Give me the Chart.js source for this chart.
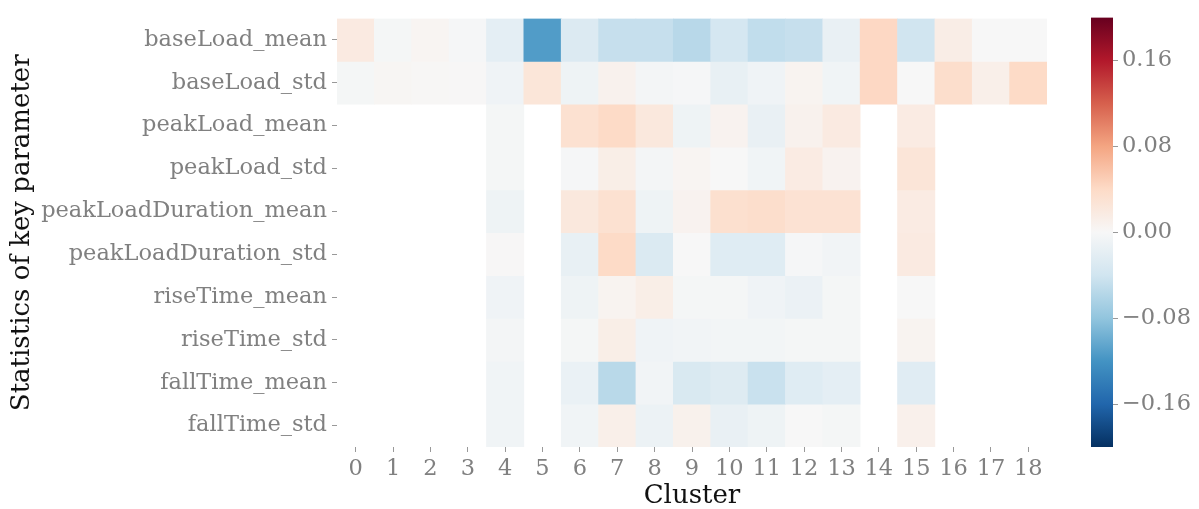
<!DOCTYPE html>
<html>
<head>
<meta charset="utf-8">
<script src="https://cdn.jsdelivr.net/npm/chart.js@4/dist/chart.umd.min.js"></script>
<style>
    html, body { margin: 0; padding: 0; background: #ffffff; }
    #wrap { position: relative; width: 1199px; height: 509px; overflow: hidden; }
    #heatmap { position: absolute; left: 0; top: 0; }
    #colorbar { position: absolute; left: 1060px; top: 0; }
</style>
</head>
<body>
<div id="wrap">
    <canvas id="heatmap" width="1070" height="509"></canvas>
    <canvas id="colorbar" width="139" height="509"></canvas>
</div>
<script>
const clusters = ['0', '1', '2', '3', '4', '5', '6', '7', '8', '9', '10', '11', '12', '13', '14', '15', '16', '17', '18'];
const parameters = [
    'baseLoad_mean', 'baseLoad_std', 'peakLoad_mean', 'peakLoad_std',
    'peakLoadDuration_mean', 'peakLoadDuration_std', 'riseTime_mean',
    'riseTime_std', 'fallTime_mean', 'fallTime_std'
];
const n = null;

// one array per parameter row, one value per cluster (null = no data)
const baseLoadMean = [0.018, -0.003, 0.004, -0.002, -0.02, -0.113, -0.028, -0.047, -0.047, -0.056, -0.036, -0.05, -0.047, -0.015, 0.042, -0.04, 0.014, 0.0, 0.0];
const baseLoadStd = [-0.003, 0.003, 0.002, 0.001, -0.008, 0.025, -0.009, 0.008, -0.004, -0.002, -0.016, -0.008, 0.006, -0.007, 0.042, 0.0, 0.036, 0.012, 0.04];
const peakLoadMean = [n, n, n, n, -0.003, n, 0.032, 0.04, 0.022, -0.01, 0.007, -0.015, 0.008, 0.018, n, 0.017, n, n, n];
const peakLoadStd = [n, n, n, n, -0.003, n, -0.002, 0.013, -0.004, 0.004, 0.0, -0.007, 0.017, 0.007, n, 0.026, n, n, n];
const peakLoadDurationMean = [n, n, n, n, -0.01, n, 0.022, 0.032, -0.01, 0.007, 0.033, 0.036, 0.03, 0.03, n, 0.017, n, n, n];
const peakLoadDurationStd = [n, n, n, n, 0.001, n, -0.016, 0.04, -0.03, 0.0, -0.025, -0.025, -0.002, -0.006, n, 0.018, n, n, n];
const riseTimeMean = [n, n, n, n, -0.008, n, -0.009, 0.006, 0.013, -0.003, -0.003, -0.008, -0.013, -0.003, n, 0.0, n, n, n];
const riseTimeStd = [n, n, n, n, -0.004, n, -0.003, 0.013, -0.008, -0.006, -0.005, -0.005, -0.003, -0.003, n, 0.006, n, n, n];
const fallTimeMean = [n, n, n, n, -0.007, n, -0.014, -0.055, -0.006, -0.032, -0.026, -0.045, -0.025, -0.02, n, -0.024, n, n, n];
const fallTimeStd = [n, n, n, n, -0.007, n, -0.007, 0.012, -0.012, 0.009, -0.015, -0.01, 0.0, -0.003, n, 0.01, n, n, n];

const rows = [baseLoadMean, baseLoadStd, peakLoadMean, peakLoadStd, peakLoadDurationMean,
    peakLoadDurationStd, riseTimeMean, riseTimeStd, fallTimeMean, fallTimeStd];

const colorTicks = [-0.16, -0.08, 0, 0.08, 0.16];
const vmin = -0.2;
const vmax = 0.2;

// RdBu_r colormap stops
const rdbu = ['#053061', '#2166ac', '#4393c3', '#92c5de', '#d1e5f0', '#f7f7f7',
    '#fddbc7', '#f4a582', '#d6604d', '#b2182b', '#67001f'];

function hexToRgb(hex) {
    return [parseInt(hex.slice(1, 3), 16), parseInt(hex.slice(3, 5), 16), parseInt(hex.slice(5, 7), 16)];
}

function colorFor(value) {
    let t = (value - vmin) / (vmax - vmin);
    t = Math.max(0, Math.min(1, t));
    const pos = t * (rdbu.length - 1);
    const i = Math.min(Math.floor(pos), rdbu.length - 2);
    const f = pos - i;
    const a = hexToRgb(rdbu[i]);
    const b = hexToRgb(rdbu[i + 1]);
    const c = a.map(function (v, k) { return Math.round(v + (b[k] - v) * f); });
    return 'rgb(' + c[0] + ',' + c[1] + ',' + c[2] + ')';
}

function formatTick(value) {
    const s = Math.abs(value).toFixed(2);
    return value < 0 ? '\u2212' + s : s;
}

const tickFont = { family: 'DejaVu Serif', size: 22.5 };
const titleFont = { family: 'DejaVu Serif', size: 26, lineHeight: 1.0 };
const tickGray = '#808080';

const datasets = rows.map(function (values, r) {
    return {
        label: parameters[r],
        data: values.map(function (v) { return v === null ? null : [r - 0.5, r + 0.5]; }),
        backgroundColor: values.map(function (v) { return v === null ? 'rgba(0,0,0,0)' : colorFor(v); }),
        borderWidth: 0,
        barPercentage: 1,
        categoryPercentage: 1,
        grouped: false
    };
});

new Chart(document.getElementById('heatmap'), {
    type: 'bar',
    data: { labels: clusters, datasets: datasets },
    options: {
        responsive: false,
        animation: false,
        devicePixelRatio: 1,
        layout: { padding: { left: 0, right: 23, top: 13, bottom: 0 } },
        plugins: { legend: { display: false }, tooltip: { enabled: false } },
        scales: {
            x: {
                type: 'category',
                grid: { display: true, offset: false, drawOnChartArea: false, drawTicks: true, tickLength: 5, color: '#999999', lineWidth: 1 },
                border: { display: false },
                ticks: { font: tickFont, color: tickGray, padding: 4, maxRotation: 0, autoSkip: false },
                title: { display: true, text: 'Cluster', font: titleFont, color: '#111111', padding: { top: 0, bottom: 0 } },
                afterFit: function (scale) { scale.height = 62; }
            },
            y: {
                type: 'linear',
                min: -0.5,
                max: 9.5,
                reverse: true,
                afterBuildTicks: function (scale) {
                    scale.ticks = parameters.map(function (p, i) { return { value: i }; });
                },
                grid: { display: true, drawOnChartArea: false, drawTicks: true, tickLength: 5, color: '#999999', lineWidth: 1 },
                border: { display: false },
                ticks: {
                    font: tickFont,
                    color: tickGray,
                    padding: 5,
                    callback: function (value) { return parameters[value]; }
                },
                title: { display: true, text: 'Statistics of key parameter', font: titleFont, color: '#111111', padding: { top: 9, bottom: 0 } },
                afterFit: function (scale) { scale.width = 337; }
            }
        }
    }
});

new Chart(document.getElementById('colorbar'), {
    type: 'bar',
    data: {
        labels: ['cbar'],
        datasets: [{
            data: [[vmin, vmax]],
            backgroundColor: function (ctx) {
                const area = ctx.chart.chartArea;
                if (!area) { return '#f7f7f7'; }
                const g = ctx.chart.ctx.createLinearGradient(0, area.bottom, 0, area.top);
                rdbu.forEach(function (c, i) { g.addColorStop(i / (rdbu.length - 1), c); });
                return g;
            },
            borderWidth: 0,
            barPercentage: 1,
            categoryPercentage: 1
        }]
    },
    options: {
        responsive: false,
        animation: false,
        devicePixelRatio: 1,
        layout: { padding: { left: 31, right: 0, top: 13, bottom: 62 } },
        plugins: { legend: { display: false }, tooltip: { enabled: false } },
        scales: {
            x: { display: false },
            y: {
                position: 'right',
                min: vmin,
                max: vmax,
                afterBuildTicks: function (scale) {
                    scale.ticks = colorTicks.map(function (v) { return { value: v }; });
                },
                grid: { display: true, drawOnChartArea: false, drawTicks: true, tickLength: 5, color: '#999999', lineWidth: 1 },
                border: { display: false },
                ticks: { font: tickFont, color: tickGray, padding: 4, callback: function (value) { return formatTick(value); } },
                afterFit: function (scale) { scale.width = 86; }
            }
        }
    }
});
</script>
</body>
</html>
